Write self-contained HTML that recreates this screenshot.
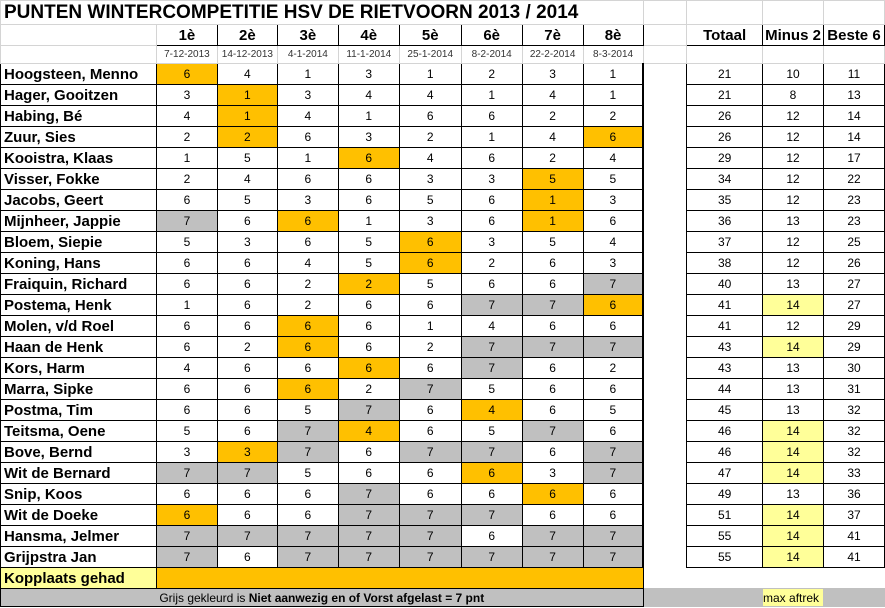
<!DOCTYPE html>
<html><head><meta charset="utf-8"><style>
html,body{margin:0;padding:0;background:#fff;}
body{width:885px;height:608px;overflow:hidden;font-family:"Liberation Sans",Arial,sans-serif;}
table{border-collapse:collapse;table-layout:fixed;position:absolute;left:0;top:0;}
td{padding:0;border:1px solid #d4d4d4;text-align:center;font-size:12px;overflow:hidden;white-space:nowrap;}
tr.d{height:21px;}
tr.d td{border:1px solid #000;}
tr.d td.n{text-align:left;padding-left:3px;font-weight:bold;font-size:15px;}
tr.d td.gap{border-top:none;border-bottom:none;}
td.o{background:#ffc000;}
td.g{background:#c0c0c0;}
td.y{background:#ffff99;}
td.r{border-right:2px solid #000 !important;}
.h td{font-weight:bold;font-size:15px;}
.h td.b{border:1px solid #000;}
.dt td{font-size:10px;color:#333;}
</style></head><body>
<table>
<colgroup><col style="width:156px"><col style="width:61px"><col style="width:60px"><col style="width:61px"><col style="width:61px"><col style="width:62px"><col style="width:61px"><col style="width:61px"><col style="width:60px"><col style="width:44px"><col style="width:76px"><col style="width:61px"><col style="width:61px"></colgroup>
<tr style="height:24px"><td colspan="9" style="text-align:left;font-weight:bold;font-size:19px;padding-left:3px;border-right:none">PUNTEN WINTERCOMPETITIE HSV DE RIETVOORN 2013 / 2014</td><td></td><td style="border-left:1px solid #000"></td><td style="border-left:1px solid #000"></td><td style="border-left:1px solid #000"></td></tr>
<tr class="h" style="height:21px"><td></td><td class="b">1è</td><td class="b">2è</td><td class="b">3è</td><td class="b">4è</td><td class="b">5è</td><td class="b">6è</td><td class="b">7è</td><td class="b">8è</td><td></td><td class="b">Totaal</td><td class="b">Minus 2</td><td class="b">Beste 6</td></tr>
<tr class="dt" style="height:18px"><td></td><td>7-12-2013</td><td>14-12-2013</td><td>4-1-2014</td><td>11-1-2014</td><td>25-1-2014</td><td>8-2-2014</td><td>22-2-2014</td><td>8-3-2014</td><td></td><td></td><td></td><td></td></tr>
<tr class="d"><td class="n">Hoogsteen, Menno</td><td class="o">6</td><td>4</td><td>1</td><td>3</td><td>1</td><td>2</td><td>3</td><td class="r">1</td><td class="gap"></td><td>21</td><td>10</td><td>11</td></tr>
<tr class="d"><td class="n">Hager, Gooitzen</td><td>3</td><td class="o">1</td><td>3</td><td>4</td><td>4</td><td>1</td><td>4</td><td class="r">1</td><td class="gap"></td><td>21</td><td>8</td><td>13</td></tr>
<tr class="d"><td class="n">Habing, Bé</td><td>4</td><td class="o">1</td><td>4</td><td>1</td><td>6</td><td>6</td><td>2</td><td class="r">2</td><td class="gap"></td><td>26</td><td>12</td><td>14</td></tr>
<tr class="d"><td class="n">Zuur, Sies</td><td>2</td><td class="o">2</td><td>6</td><td>3</td><td>2</td><td>1</td><td>4</td><td class="o r">6</td><td class="gap"></td><td>26</td><td>12</td><td>14</td></tr>
<tr class="d"><td class="n">Kooistra, Klaas</td><td>1</td><td>5</td><td>1</td><td class="o">6</td><td>4</td><td>6</td><td>2</td><td class="r">4</td><td class="gap"></td><td>29</td><td>12</td><td>17</td></tr>
<tr class="d"><td class="n">Visser, Fokke</td><td>2</td><td>4</td><td>6</td><td>6</td><td>3</td><td>3</td><td class="o">5</td><td class="r">5</td><td class="gap"></td><td>34</td><td>12</td><td>22</td></tr>
<tr class="d"><td class="n">Jacobs, Geert</td><td>6</td><td>5</td><td>3</td><td>6</td><td>5</td><td>6</td><td class="o">1</td><td class="r">3</td><td class="gap"></td><td>35</td><td>12</td><td>23</td></tr>
<tr class="d"><td class="n">Mijnheer, Jappie</td><td class="g">7</td><td>6</td><td class="o">6</td><td>1</td><td>3</td><td>6</td><td class="o">1</td><td class="r">6</td><td class="gap"></td><td>36</td><td>13</td><td>23</td></tr>
<tr class="d"><td class="n">Bloem, Siepie</td><td>5</td><td>3</td><td>6</td><td>5</td><td class="o">6</td><td>3</td><td>5</td><td class="r">4</td><td class="gap"></td><td>37</td><td>12</td><td>25</td></tr>
<tr class="d"><td class="n">Koning, Hans</td><td>6</td><td>6</td><td>4</td><td>5</td><td class="o">6</td><td>2</td><td>6</td><td class="r">3</td><td class="gap"></td><td>38</td><td>12</td><td>26</td></tr>
<tr class="d"><td class="n">Fraiquin, Richard</td><td>6</td><td>6</td><td>2</td><td class="o">2</td><td>5</td><td>6</td><td>6</td><td class="g r">7</td><td class="gap"></td><td>40</td><td>13</td><td>27</td></tr>
<tr class="d"><td class="n">Postema, Henk</td><td>1</td><td>6</td><td>2</td><td>6</td><td>6</td><td class="g">7</td><td class="g">7</td><td class="o r">6</td><td class="gap"></td><td>41</td><td class="y">14</td><td>27</td></tr>
<tr class="d"><td class="n">Molen, v/d Roel</td><td>6</td><td>6</td><td class="o">6</td><td>6</td><td>1</td><td>4</td><td>6</td><td class="r">6</td><td class="gap"></td><td>41</td><td>12</td><td>29</td></tr>
<tr class="d"><td class="n">Haan de Henk</td><td>6</td><td>2</td><td class="o">6</td><td>6</td><td>2</td><td class="g">7</td><td class="g">7</td><td class="g r">7</td><td class="gap"></td><td>43</td><td class="y">14</td><td>29</td></tr>
<tr class="d"><td class="n">Kors, Harm</td><td>4</td><td>6</td><td>6</td><td class="o">6</td><td>6</td><td class="g">7</td><td>6</td><td class="r">2</td><td class="gap"></td><td>43</td><td>13</td><td>30</td></tr>
<tr class="d"><td class="n">Marra, Sipke</td><td>6</td><td>6</td><td class="o">6</td><td>2</td><td class="g">7</td><td>5</td><td>6</td><td class="r">6</td><td class="gap"></td><td>44</td><td>13</td><td>31</td></tr>
<tr class="d"><td class="n">Postma, Tim</td><td>6</td><td>6</td><td>5</td><td class="g">7</td><td>6</td><td class="o">4</td><td>6</td><td class="r">5</td><td class="gap"></td><td>45</td><td>13</td><td>32</td></tr>
<tr class="d"><td class="n">Teitsma, Oene</td><td>5</td><td>6</td><td class="g">7</td><td class="o">4</td><td>6</td><td>5</td><td class="g">7</td><td class="r">6</td><td class="gap"></td><td>46</td><td class="y">14</td><td>32</td></tr>
<tr class="d"><td class="n">Bove, Bernd</td><td>3</td><td class="o">3</td><td class="g">7</td><td>6</td><td class="g">7</td><td class="g">7</td><td>6</td><td class="g r">7</td><td class="gap"></td><td>46</td><td class="y">14</td><td>32</td></tr>
<tr class="d"><td class="n">Wit de Bernard</td><td class="g">7</td><td class="g">7</td><td>5</td><td>6</td><td>6</td><td class="o">6</td><td>3</td><td class="g r">7</td><td class="gap"></td><td>47</td><td class="y">14</td><td>33</td></tr>
<tr class="d"><td class="n">Snip, Koos</td><td>6</td><td>6</td><td>6</td><td class="g">7</td><td>6</td><td>6</td><td class="o">6</td><td class="r">6</td><td class="gap"></td><td>49</td><td>13</td><td>36</td></tr>
<tr class="d"><td class="n">Wit de Doeke</td><td class="o">6</td><td>6</td><td>6</td><td class="g">7</td><td class="g">7</td><td class="g">7</td><td>6</td><td class="r">6</td><td class="gap"></td><td>51</td><td class="y">14</td><td>37</td></tr>
<tr class="d"><td class="n">Hansma, Jelmer</td><td class="g">7</td><td class="g">7</td><td class="g">7</td><td class="g">7</td><td class="g">7</td><td>6</td><td class="g">7</td><td class="g r">7</td><td class="gap"></td><td>55</td><td class="y">14</td><td>41</td></tr>
<tr class="d"><td class="n">Grijpstra Jan</td><td class="g">7</td><td>6</td><td class="g">7</td><td class="g">7</td><td class="g">7</td><td class="g">7</td><td class="g">7</td><td class="g r">7</td><td class="gap"></td><td>55</td><td class="y">14</td><td>41</td></tr>
<tr class="d"><td class="n y">Kopplaats gehad</td><td class="o" colspan="8"></td><td style="border:none;border-left:1px solid #000"></td><td style="border:none;border-top:1px solid #000"></td><td style="border:none;border-top:1px solid #000"></td><td style="border:none;border-top:1px solid #000"></td></tr>
<tr style="height:18px"><td colspan="9" class="g" style="border:1px solid #000;font-size:12px">Grijs gekleurd is <b>Niet aanwezig en of Vorst afgelast = 7 pnt</b></td><td class="g" style="border-color:#c0c0c0"></td><td class="g" style="border-color:#c0c0c0"></td><td class="y" style="text-align:left;font-size:12px;border-color:#c0c0c0">max aftrek</td><td class="g" style="border-color:#c0c0c0"></td></tr>
</table>
</body></html>
